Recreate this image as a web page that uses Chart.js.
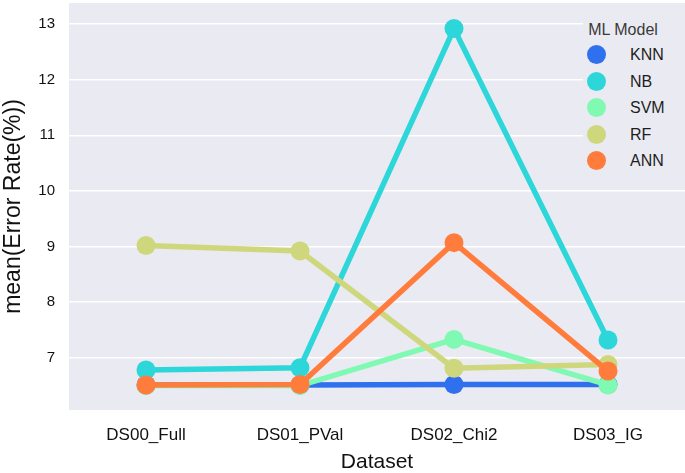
<!DOCTYPE html>
<html>
<head>
<meta charset="utf-8">
<script src="https://cdn.jsdelivr.net/npm/chart.js@4/dist/chart.umd.min.js"></script>
<style>
  body { margin: 0; background: #fff; overflow: hidden; }
  #wrap { position: relative; width: 685px; height: 473px; }
  #legend {
    position: absolute; left: 583px; top: 8px; width: 102px; height: 167px;
    background: #eaeaf2; font-family: 'Liberation Sans', Arial, sans-serif;
  }
  #legend .ttl { position: absolute; left: 0; width: 80px; top: 13px; text-align: center; font-size: 16px; color: #3a3a3a; }
  #legend .row { position: absolute; left: 0; height: 20px; width: 100px; }
  #legend .dot { position: absolute; left: 4px; top: 0; width: 19px; height: 19px; border-radius: 50%; }
  #legend .lbl { position: absolute; left: 47px; top: 1px; font-size: 16px; color: #1e1e1e; }
</style>
</head>
<body>
<div id="wrap">
  <canvas id="chart"></canvas>
  <div id="legend"></div>
</div>
<script>
const categories = ['DS00_Full', 'DS01_PVal', 'DS02_Chi2', 'DS03_IG'];
const models = ['KNN', 'NB', 'SVM', 'RF', 'ANN'];
const colors = ['#2f70ee', '#2dd6d8', '#80f9b2', '#cfd77c', '#ff7c3c'];

const knnValues = [6.51, 6.51, 6.52, 6.52];
const nbValues  = [6.78, 6.82, 12.92, 7.32];
const svmValues = [6.50, 6.50, 7.33, 6.51];
const rfValues  = [9.02, 8.92, 6.81, 6.88];
const annValues = [6.51, 6.52, 9.07, 6.76];

const yTicks = [7, 8, 9, 10, 11, 12, 13];

const series = [knnValues, nbValues, svmValues, rfValues, annValues];

// plot background like seaborn darkgrid
const bgPlugin = {
    id: 'plotBg',
    beforeDraw(chart) {
        const { ctx, chartArea: a } = chart;
        ctx.save();
        ctx.fillStyle = '#eaeaf2';
        ctx.fillRect(a.left, a.top, a.right - a.left, a.bottom - a.top);
        ctx.restore();
    }
};

const datasets = models.map((m, i) => ({
    label: m,
    data: series[i],
    borderColor: colors[i],
    backgroundColor: colors[i],
    pointBackgroundColor: colors[i],
    borderWidth: 5.5,
    pointRadius: 9.5,
    pointBorderWidth: 0,
    pointHoverRadius: 9.5,
    order: models.length - i // later series drawn on top
}));

new Chart(document.getElementById('chart'), {
    type: 'line',
    data: { labels: categories, datasets },
    options: {
        responsive: true,
        maintainAspectRatio: false,
        animation: false,
        layout: { autoPadding: false, padding: { top: 3, right: 0, left: 0, bottom: 0 } },
        plugins: { legend: { display: false }, tooltip: { enabled: false } },
        scales: {
            x: {
                offset: true,
                grid: { display: false },
                border: { display: false },
                ticks: { color: '#111', padding: 7, font: { family: 'Liberation Sans', size: 17 } },
                title: {
                    display: true, text: 'Dataset', color: '#111',
                    padding: { top: 0, bottom: 0 },
                    font: { family: 'Liberation Sans', size: 21, lineHeight: 1 }
                },
                afterFit: s => { s.height = 63; s.paddingLeft = 0; s.paddingRight = 0; }
            },
            y: {
                min: 6.06,
                max: 13.38,
                afterBuildTicks: s => { s.ticks = yTicks.map(v => ({ value: v })); },
                grid: { color: '#ffffff', lineWidth: 1.5, drawTicks: false },
                border: { display: false },
                ticks: { color: '#111', padding: 14, font: { family: 'Liberation Sans', size: 15 } },
                title: {
                    display: true, text: 'mean(Error Rate(%))', color: '#111',
                    padding: { top: 2, bottom: 0 },
                    font: { family: 'Liberation Sans', size: 23, lineHeight: 1 }
                },
                afterFit: s => { s.width = 69; s.paddingTop = 0; s.paddingBottom = 0; }
            }
        }
    },
    plugins: [bgPlugin]
});

// legend inside the plot, top right
const legend = document.getElementById('legend');
legend.innerHTML = '<div class="ttl">ML Model</div>' + models.map((m, i) =>
    `<div class="row" style="top:${37 + i * 26.5}px"><div class="dot" style="background:${colors[i]}"></div><div class="lbl">${m}</div></div>`
).join('');
</script>
</body>
</html>
